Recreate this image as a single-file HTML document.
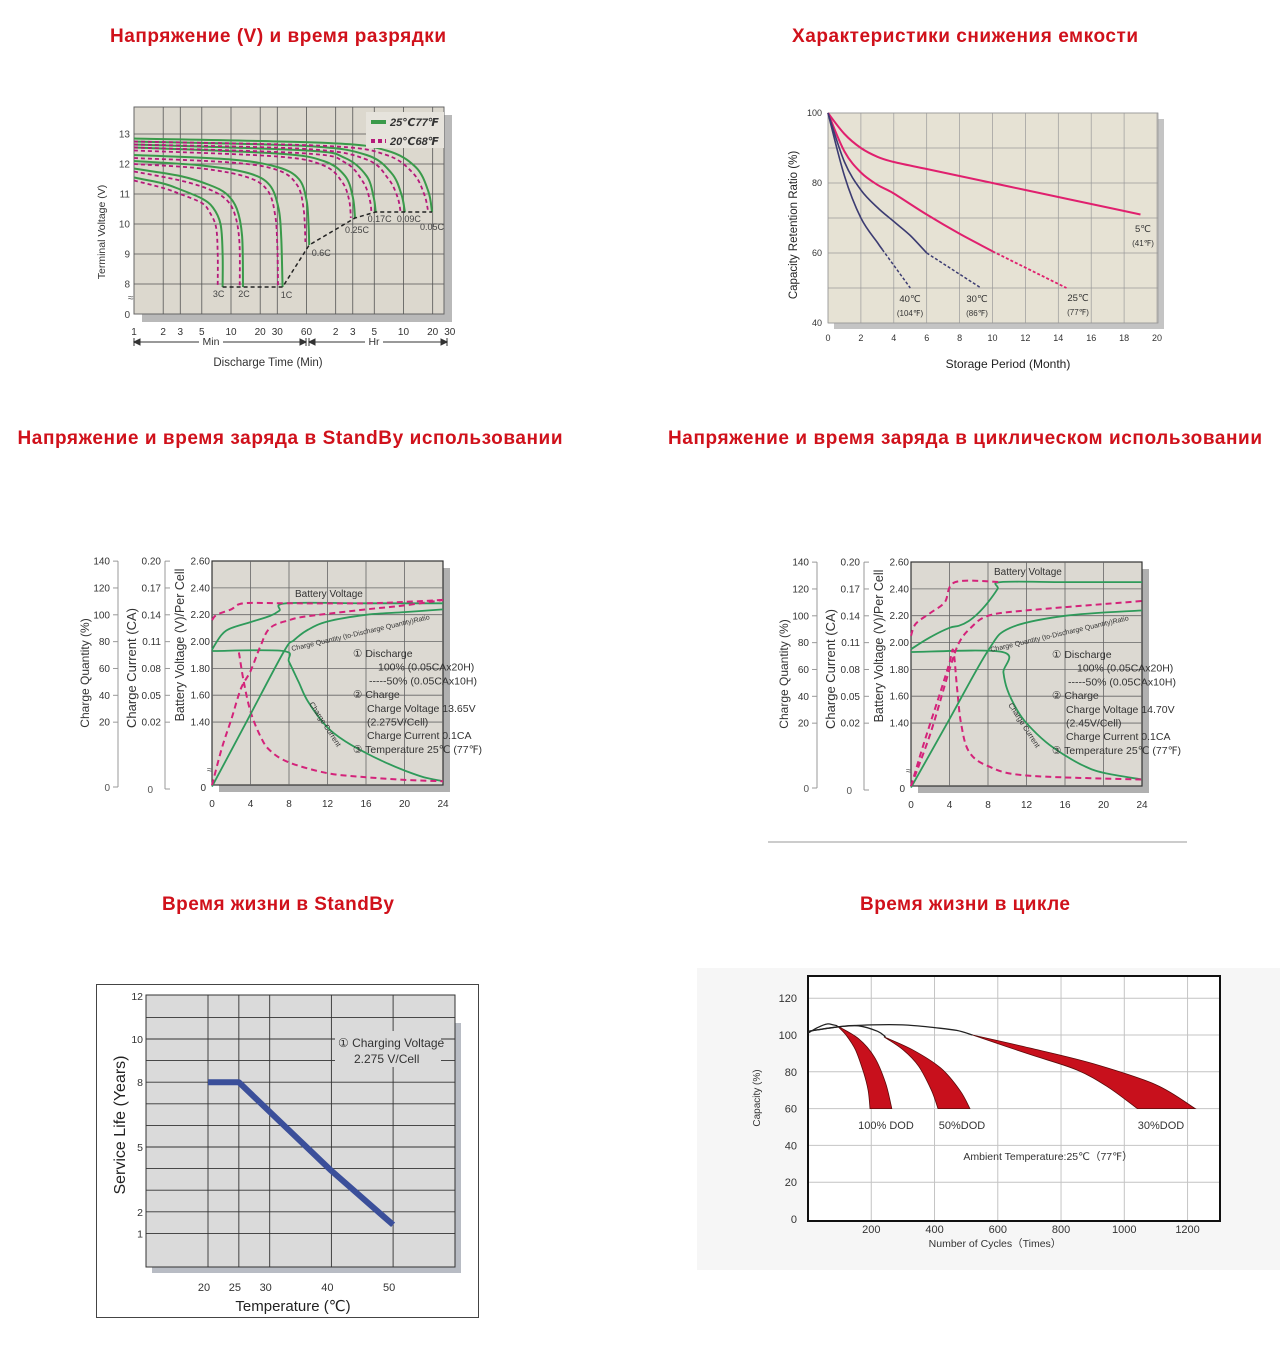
<!DOCTYPE html>
<html><head><meta charset="utf-8"><title>Battery charts</title>
<style>
html,body{margin:0;padding:0;background:#fff;width:1280px;height:1350px;overflow:hidden}
svg{display:block;font-family:"Liberation Sans","DejaVu Sans","Noto Sans CJK SC",sans-serif}
.ttl{font-size:19px;font-weight:bold;fill:#d0111b;text-anchor:middle}
</style></head>
<body>
<svg id="charts" width="1280" height="1350" viewBox="0 0 1280 1350" xmlns="http://www.w3.org/2000/svg">
<rect x="0" y="0" width="1280" height="1350" fill="#fff"/>
<text class="ttl" x="278" y="42" textLength="336">Напряжение (V) и время разрядки</text>
<text class="ttl" x="965" y="42" textLength="346">Характеристики снижения емкости</text>
<text class="ttl" x="290" y="444" textLength="545">Напряжение и время заряда в StandBy использовании</text>
<text class="ttl" x="965" y="444" textLength="594">Напряжение и время заряда в циклическом использовании</text>
<text class="ttl" x="278" y="910" textLength="232">Время жизни в StandBy</text>
<text class="ttl" x="965" y="910" textLength="210">Время жизни в цикле</text>
<line x1="768" y1="842" x2="1187" y2="842" stroke="#999" stroke-width="1"/>
</svg>
<script>
// ===== Chart 1: discharge =====
const dischargeRates=['3C','2C','1C','0.6C','0.25C','0.17C','0.09C','0.05C'];
const curves25=[
[[1,11.55],[2,11.35],[3,11.15],[5,10.85],[6.5,10.55],[7.8,10.0],[8.2,9.0],[8.2,7.9]],
[[1,11.85],[3,11.6],[6,11.3],[9,11.0],[11.5,10.5],[13,9.6],[13.3,7.9]],
[[1,12.1],[5,11.95],[15,11.7],[25,11.3],[31,10.5],[33,9.5],[34,7.9]],
[[1,12.3],[10,12.15],[30,11.9],[50,11.5],[60,10.8],[63,10.0],[64,9.3]],
[[1,12.55],[30,12.35],[90,12.1],[150,11.6],[180,10.9],[190,10.2]],
[[1,12.65],[60,12.45],[150,12.2],[250,11.6],[295,10.9],[310,10.4]],
[[1,12.75],[60,12.6],[250,12.3],[450,11.7],[570,11.0],[620,10.4]],
[[1,12.85],[100,12.7],[400,12.45],[800,11.9],[1080,11.1],[1180,10.4]]];
const curves20=[
[[1,11.45],[2,11.2],[3,11.0],[5,10.7],[6,10.4],[7,9.9],[7.3,9.0],[7.3,7.9]],
[[1,11.75],[3,11.45],[6,11.15],[9,10.8],[11,10.3],[12.2,9.4],[12.3,7.9]],
[[1,12.0],[5,11.85],[15,11.55],[24,11.1],[28.5,10.3],[30,9.3],[30.5,7.9]],
[[1,12.2],[10,12.05],[30,11.8],[48,11.3],[56,10.5],[58.5,9.4]],
[[1,12.45],[30,12.25],[90,11.95],[140,11.4],[165,10.8],[172,10.2]],
[[1,12.55],[60,12.35],[150,12.05],[230,11.4],[270,10.8],[280,10.4]],
[[1,12.65],[60,12.5],[250,12.15],[420,11.5],[520,10.9],[560,10.4]],
[[1,12.75],[100,12.6],[400,12.3],[750,11.7],[980,11.0],[1080,10.4]]];
const endVoltageLine=[[8.2,7.9],[34,7.9],[64,9.3],[190,10.2],[310,10.4],[1180,10.4]];
const timeTicks=[1,2,3,5,10,20,30,60,120,180,300,600,1200,1800];
const timeTickLabels=['1','2','3','5','10','20','30','60','2','3','5','10','20','30'];
const voltTicks=[8,9,10,11,12,13];
// ===== Chart 2: storage =====
const storageMonths5=[0,1,2,3,4,6,8,10,12,14,16,19];
const storageCap5=[100,94,90,87.5,86,84,82,80,78,76,74,71];
const storageMonths25=[0,1,2,3,4,6,8,10];
const storageCap25=[100,89,83,79.5,77,71,65.5,60.5];
const storageDash25=[[10,60.5],[14.5,50]];
const storageMonths30=[0,1,2,3,4,5,6];
const storageCap30=[100,86,78,73,69,65,60];
const storageDash30=[[6,60],[9.3,50]];
const storageMonths40=[0,1,2,3,3.3];
const storageCap40=[100,82,70,63,61];
const storageDash40=[[3.3,61],[5,50]];
const monthTicks=[0,2,4,6,8,10,12,14,16,18,20];
const retentionTicks=[40,60,80,100];
// ===== Chart 3/4: charge =====
const standbyVoltG=[[0,1.94],[1,2.05],[2,2.1],[4,2.145],[6,2.19],[7,2.23],[7.7,2.285],[16,2.285],[24,2.285]];
const standbyVoltP=[[0,2.16],[0.5,2.2],[2,2.24],[3.3,2.285],[7.7,2.285],[16,2.285],[20,2.295],[24,2.31]];
const standbyCurrG=[[0,73],[7.4,73],[8,65],[9,50],[10,35],[12,16],[14,5],[16,-3],[18,-10],[20,-16],[22,-21],[24,-24]];
const standbyCurrP=[[2.8,72],[3.3,50],[4,28],[5,10],[6,-1],[8,-10],[12,-18],[16,-21],[20,-23],[24,-24]];
const standbyCqG=[[0,-28],[3.75,22.5],[7.5,73],[8.5,81],[10,89],[12,95],[16,100],[20,102],[24,104]];
const standbyCqP=[[0,-27],[1,0],[2,22],[3,45],[4,58],[5,76],[6,90],[8,96],[10,99],[16,104],[20,107],[24,111]];
const cyclicVoltG=[[0,1.95],[2,2.04],[4,2.11],[5,2.125],[6,2.16],[7,2.22],[8,2.3],[9,2.4],[9.3,2.45],[16,2.45],[24,2.45]];
const cyclicVoltP=[[0,2.05],[0.5,2.14],[2,2.22],[3.5,2.3],[4.6,2.45],[9.3,2.45]];
const cyclicCurrG=[[0,73],[9.5,73],[9.6,58],[10,45],[11,30],[12,20],[14,6],[16,-4],[18,-12],[20,-17],[24,-22]];
const cyclicCurrP=[[0,-27],[1,-3],[2,20],[3,42],[4,65],[4.4,74],[4.8,45],[5.2,20],[6,-1],[8,-12],[12,-19],[24,-22]];
const cyclicCqG=[[0,-28],[4,23],[8,74],[10.3,91],[16,100],[24,104]];
const cyclicCqP=[[0,-27],[2,12],[4,60],[5,80],[6.2,91],[8,100],[12,104],[24,111]];
const hourTicks=[0,4,8,12,16,20,24];
const cqTicks=[20,40,60,80,100,120,140];
const caTickLabels=['0.02','0.05','0.08','0.11','0.14','0.17','0.20'];
const vTicks=[1.4,1.6,1.8,2.0,2.2,2.4,2.6];
// ===== Chart 5: standby life =====
const lifeTemps=[20,25,40,50];
const lifeYears=[8,8,3.9,1.4];
const lifeTempTicks=[20,25,30,40,50];
const lifeYearTicks=[1,2,5,8,10,12];
// ===== Chart 6: cycle life =====
const cycleTicks=[200,400,600,800,1000,1200];
const capTicks=[0,20,40,60,80,100,120];
const topCurve100=[[0,101],[30,104],[60,106],[80,105.5],[92,105]];
const topCurve50=[[0,102],[100,104.5],[160,105],[220,102],[245,99]];
const topCurve30=[[0,102],[100,104.5],[200,105.5],[300,105.5],[400,104],[470,102.5],[520,100]];
const band100Right=[[92,105],[160,98],[210,88],[245,74],[265,60]];
const band100Left=[[92,105],[120,100],[150,92],[175,80],[190,70],[196,60]];
const band50Right=[[240,99],[330,92],[420,82],[480,70],[512,60]];
const band50Left=[[240,99],[300,92],[350,83],[390,70],[411,60]];
const band30Right=[[520,100],[700,93],[900,84.5],[1100,73],[1224,60]];
const band30Left=[[520,100],[700,89.5],[850,81],[950,71.5],[1041,60]];

const NS='http://www.w3.org/2000/svg';
const root=document.getElementById('charts');
function mk(tag,name,attrs,parent){
  const e=document.createElementNS(NS,tag);
  for(const k in attrs) e.setAttribute(k,attrs[k]);
  
  
  (parent||root).appendChild(e);return e;}
function txt(name,x,y,s,attrs,parent){const e=mk('text',name,Object.assign({x:x,y:y},attrs||{}),parent);e.textContent=s;return e;}
function smooth(p){
  let d='M'+p[0][0].toFixed(1)+','+p[0][1].toFixed(1);
  for(let i=0;i<p.length-1;i++){
    const p0=p[i-1]||p[i],p1=p[i],p2=p[i+1],p3=p[i+2]||p2;
    const c1=[p1[0]+(p2[0]-p0[0])/6,p1[1]+(p2[1]-p0[1])/6];
    const c2=[p2[0]-(p3[0]-p1[0])/6,p2[1]-(p3[1]-p1[1])/6];
    d+=' C'+c1[0].toFixed(1)+','+c1[1].toFixed(1)+' '+c2[0].toFixed(1)+','+c2[1].toFixed(1)+' '+p2[0].toFixed(1)+','+p2[1].toFixed(1);}
  return d;}
function poly(p){return 'M'+p.map(q=>q[0].toFixed(1)+','+q[1].toFixed(1)).join(' L');}
function zip(a,b){return a.map((v,i)=>[v,b[i]]);}

// ---------- Chart 1 ----------
(function(){
  const g=mk('g','discharge-chart',{});
  const sx=t=>134+97*Math.log10(t), sy=v=>134+(13-v)*30;
  mk('rect','plot-shadow',{x:142,y:115,width:310,height:207,fill:'#b9b9b9'},g);
  mk('rect','plot-area',{x:134,y:107,width:310,height:207,fill:'#dcd8ce',stroke:'#666','stroke-width':1},g);
  timeTicks.forEach(t=>{if(t<1800&&t>1){mk('line','x-grid-line',{x1:sx(t),y1:107,x2:sx(t),y2:314,stroke:'#555','stroke-width':0.8},g);}});
  voltTicks.forEach(v=>{mk('line','y-grid-line',{x1:134,y1:sy(v),x2:444,y2:sy(v),stroke:'#555','stroke-width':0.8},g);
    txt('y-tick-label',130,sy(v)+3.5,String(v),{'font-size':10,fill:'#444','text-anchor':'end'},g);});
  txt('y-tick-label',130,318,'0',{'font-size':10,fill:'#444','text-anchor':'end'},g);
  txt('axis-break',128,301,'≈',{'font-size':10,fill:'#555'},g);
  timeTicks.forEach((t,i)=>txt('x-tick-label',sx(t),335,timeTickLabels[i],{'font-size':10,fill:'#333','text-anchor':'middle'},g));
  curves25.forEach((c,i)=>mk('path','curve-25c-'+dischargeRates[i],{d:smooth(c.map(p=>[sx(p[0]),sy(p[1])])),fill:'none',stroke:'#3a9a4a','stroke-width':2},g));
  curves20.forEach((c,i)=>mk('path','curve-20c-'+dischargeRates[i],{d:smooth(c.map(p=>[sx(p[0]),sy(p[1])])),fill:'none',stroke:'#b5197a','stroke-width':1.8,'stroke-dasharray':'4,3'},g));
  mk('path','end-voltage-line',{d:poly(endVoltageLine.map(p=>[sx(p[0]),sy(p[1])])),fill:'none',stroke:'#222','stroke-width':1.5,'stroke-dasharray':'4,3'},g);
  const off=[[-4,10],[1,10],[4,11],[12,11],[2,15],[4,10],[4,10],[0,18]];
  curves25.forEach((c,i)=>{const e=c[c.length-1];txt('rate-label',sx(e[0])+off[i][0],sy(e[1])+off[i][1],dischargeRates[i],{'font-size':9,fill:'#444','text-anchor':'middle'},g);});
  mk('rect','legend-box',{x:366,y:112,width:78,height:36,fill:'#e6e3dc'},g);
  mk('line','legend-25c-swatch',{x1:371,y1:122,x2:386,y2:122,stroke:'#3a9a4a','stroke-width':4},g);
  txt('legend-25c-label',390,126,'25℃77℉',{'font-size':11,'font-weight':'bold','font-style':'italic',fill:'#333'},g);
  mk('line','legend-20c-swatch',{x1:371,y1:141,x2:386,y2:141,stroke:'#b5197a','stroke-width':4,'stroke-dasharray':'4,3'},g);
  txt('legend-20c-label',390,145,'20℃68℉',{'font-size':11,'font-weight':'bold','font-style':'italic',fill:'#333'},g);
  mk('line','min-range-line',{x1:136,y1:342,x2:304,y2:342,stroke:'#333','stroke-width':1},g);
  mk('line','hr-range-line',{x1:309,y1:342,x2:445,y2:342,stroke:'#333','stroke-width':1},g);
  mk('path','range-arrows',{d:'M134,338 v8 M134,342 l6,-3 v6 z M306,338 v8 M306,342 l-6,-3 v6 z M309,338 v8 M309,342 l6,-3 v6 z M447,338 v8 M447,342 l-6,-3 v6 z',stroke:'#333',fill:'#333','stroke-width':1},g);
  mk('rect','min-label-bg',{x:199,y:335,width:24,height:12,fill:'#fff'},g);
  txt('min-label',211,345,'Min',{'font-size':10.5,fill:'#333','text-anchor':'middle'},g);
  mk('rect','hr-label-bg',{x:365,y:335,width:18,height:12,fill:'#fff'},g);
  txt('hr-label',374,345,'Hr',{'font-size':10.5,fill:'#333','text-anchor':'middle'},g);
  txt('x-axis-title',268,366,'Discharge Time (Min)',{'font-size':11.5,fill:'#333','text-anchor':'middle'},g);
  txt('y-axis-title',0,0,'Terminal Voltage (V)',{'font-size':10.5,fill:'#333','text-anchor':'middle',transform:'translate(105,232) rotate(-90)'},g);
})();

// ---------- Chart 2 ----------
(function(){
  const g=mk('g','storage-chart',{});
  const sx=m=>828+m*16.45, sy=p=>113+(100-p)*3.5;
  mk('rect','plot-shadow',{x:834,y:119,width:330,height:210,fill:'#c4c4c4'},g);
  mk('rect','plot-area',{x:828,y:113,width:330,height:210,fill:'#e6e2d4',stroke:'#999','stroke-width':0.8},g);
  monthTicks.forEach(m=>{mk('line','x-grid-line',{x1:sx(m),y1:113,x2:sx(m),y2:323,stroke:'#9a9a9a','stroke-width':0.7},g);
    txt('x-tick-label',sx(m),341,String(m),{'font-size':9,fill:'#333','text-anchor':'middle'},g);});
  for(let p=40;p<=100;p+=10){mk('line','y-grid-line',{x1:828,y1:sy(p),x2:1158,y2:sy(p),stroke:'#9a9a9a','stroke-width':0.7},g);}
  retentionTicks.forEach(p=>txt('y-tick-label',822,sy(p)+3,String(p),{'font-size':9,fill:'#333','text-anchor':'end'},g));
  const P=(ms,cs)=>zip(ms,cs).map(q=>[sx(q[0]),sy(q[1])]);
  mk('path','curve-5c',{d:smooth(P(storageMonths5,storageCap5)),fill:'none',stroke:'#e0206e','stroke-width':2},g);
  mk('path','curve-25c',{d:smooth(P(storageMonths25,storageCap25)),fill:'none',stroke:'#e0206e','stroke-width':2},g);
  mk('path','curve-30c',{d:smooth(P(storageMonths30,storageCap30)),fill:'none',stroke:'#3c3c72','stroke-width':1.6},g);
  mk('path','curve-40c',{d:smooth(P(storageMonths40,storageCap40)),fill:'none',stroke:'#3c3c72','stroke-width':1.6},g);
  mk('path','curve-25c-extrapolated',{d:poly(storageDash25.map(q=>[sx(q[0]),sy(q[1])])),fill:'none',stroke:'#e0206e','stroke-width':1.8,'stroke-dasharray':'3,2'},g);
  mk('path','curve-30c-extrapolated',{d:poly(storageDash30.map(q=>[sx(q[0]),sy(q[1])])),fill:'none',stroke:'#3c3c72','stroke-width':1.5,'stroke-dasharray':'3,2'},g);
  mk('path','curve-40c-extrapolated',{d:poly(storageDash40.map(q=>[sx(q[0]),sy(q[1])])),fill:'none',stroke:'#3c3c72','stroke-width':1.5,'stroke-dasharray':'3,2'},g);
  const lab=[['5℃','(41℉)',1143,232],['40℃','(104℉)',910,302],['30℃','(86℉)',977,302],['25℃','(77℉)',1078,301]];
  lab.forEach(l=>{txt('temp-label',l[2],l[3],l[0],{'font-size':9.5,fill:'#333','text-anchor':'middle'},g);
    txt('temp-label-f',l[2],l[3]+14,l[1],{'font-size':8,fill:'#333','text-anchor':'middle'},g);});
  txt('x-axis-title',1008,368,'Storage Period (Month)',{'font-size':12,fill:'#222','text-anchor':'middle'},g);
  txt('y-axis-title',0,0,'Capacity Retention Ratio (%)',{'font-size':11.5,fill:'#222','text-anchor':'middle',transform:'translate(797,225) rotate(-90)'},g);
})();

// ---------- Chart 3/4 ----------
function drawCharge(name,ox,oy,vG,vP,cG,cP,qG,qP,bvY,cvText,cellText){
  const g=mk('g',name,{});
  const L=ox+212,R=ox+443,T=oy+561,B=oy+785;
  const sx=h=>L+h*9.625, sv=V=>T+(2.6-V)*134.2, sq=q=>oy+749-q*1.342;
  mk('rect','plot-shadow',{x:L+7,y:T+7,width:R-L,height:B-T,fill:'#b0b0b0'},g);
  mk('rect','plot-area',{x:L,y:T,width:R-L,height:B-T,fill:'#dcd9d2',stroke:'#333','stroke-width':1.2},g);
  hourTicks.forEach(h=>{if(h>0&&h<24)mk('line','x-grid-line',{x1:sx(h),y1:T,x2:sx(h),y2:B,stroke:'#666','stroke-width':0.8},g);
    txt('x-tick-label',sx(h),oy+807,String(h),{'font-size':10,fill:'#333','text-anchor':'middle'},g);});
  vTicks.forEach(v=>{if(v<2.6)mk('line','y-grid-line',{x1:L,y1:sv(v),x2:R,y2:sv(v),stroke:'#666','stroke-width':0.8},g);
    txt('voltage-tick-label',ox+210,sv(v)+3.5,v.toFixed(2),{'font-size':10,fill:'#333','text-anchor':'end'},g);});
  txt('voltage-tick-label',ox+206,oy+791,'0',{'font-size':10,fill:'#333','text-anchor':'end'},g);
  txt('axis-break',ox+207,oy+773,'≈',{'font-size':10,fill:'#555'},g);
  mk('line','cq-axis-line',{x1:ox+118,y1:sq(140),x2:ox+118,y2:oy+787,stroke:'#999','stroke-width':1},g);
  mk('line','ca-axis-line',{x1:ox+165,y1:sq(140),x2:ox+165,y2:oy+789,stroke:'#999','stroke-width':1},g);
  cqTicks.forEach((q,i)=>{
    mk('line','cq-tick',{x1:ox+113,y1:sq(q),x2:ox+118,y2:sq(q),stroke:'#999'},g);
    txt('cq-tick-label',ox+110,sq(q)+3.5,String(q),{'font-size':10,fill:'#333','text-anchor':'end'},g);
    mk('line','ca-tick',{x1:ox+165,y1:sq(q),x2:ox+170,y2:sq(q),stroke:'#999'},g);
    txt('ca-tick-label',ox+161,sq(q)+3.5,caTickLabels[i],{'font-size':10,fill:'#333','text-anchor':'end'},g);});
  mk('line','cq-tick',{x1:ox+113,y1:oy+787,x2:ox+118,y2:oy+787,stroke:'#999'},g);
  txt('cq-tick-label',ox+110,oy+791,'0',{'font-size':10,fill:'#555','text-anchor':'end'},g);
  mk('line','ca-tick',{x1:ox+165,y1:oy+789,x2:ox+170,y2:oy+789,stroke:'#999'},g);
  txt('ca-tick-label',ox+153,oy+793,'0',{'font-size':10,fill:'#555','text-anchor':'end'},g);
  txt('cq-axis-title',0,0,'Charge Quantity (%)',{'font-size':12,fill:'#333','text-anchor':'middle',transform:'translate('+(ox+89)+','+(oy+673)+') rotate(-90)'},g);
  txt('ca-axis-title',0,0,'Charge Current (CA)',{'font-size':13,fill:'#333','text-anchor':'middle',transform:'translate('+(ox+136)+','+(oy+668)+') rotate(-90)'},g);
  txt('voltage-axis-title',0,0,'Battery Voltage (V)/Per Cell',{'font-size':12.5,fill:'#333','text-anchor':'middle',transform:'translate('+(ox+184)+','+(oy+645)+') rotate(-90)'},g);
  const G='#2e9a5a',Pk='#d4237a';
  mk('path','battery-voltage-full',{d:smooth(vG.map(p=>[sx(p[0]),sv(p[1])])),fill:'none',stroke:G,'stroke-width':1.8},g);
  mk('path','battery-voltage-half',{d:smooth(vP.map(p=>[sx(p[0]),sv(p[1])])),fill:'none',stroke:Pk,'stroke-width':2,'stroke-dasharray':'6,4'},g);
  mk('path','charge-current-full',{d:smooth(cG.map(p=>[sx(p[0]),sq(p[1])])),fill:'none',stroke:G,'stroke-width':1.8},g);
  mk('path','charge-current-half',{d:smooth(cP.map(p=>[sx(p[0]),sq(p[1])])),fill:'none',stroke:Pk,'stroke-width':2,'stroke-dasharray':'6,4'},g);
  mk('path','charge-quantity-full',{d:smooth(qG.map(p=>[sx(p[0]),sq(p[1])])),fill:'none',stroke:G,'stroke-width':1.8},g);
  mk('path','charge-quantity-half',{d:smooth(qP.map(p=>[sx(p[0]),sq(p[1])])),fill:'none',stroke:Pk,'stroke-width':2,'stroke-dasharray':'6,4'},g);
  txt('battery-voltage-label',ox+295,oy+bvY,'Battery Voltage',{'font-size':10,fill:'#333'},g);
  txt('charge-quantity-label',0,0,'Charge Quantity (to-Discharge Quantity)Ratio',{'font-size':7,fill:'#333',transform:'translate('+(ox+292)+','+(oy+651)+') rotate(-13)'},g);
  txt('charge-current-label',0,0,'Charge Current',{'font-size':7.5,fill:'#333',transform:'translate('+(ox+309)+','+(oy+704)+') rotate(57)'},g);
  const notes=[['① Discharge',353],['100% (0.05CAx20H)',378],['-----50% (0.05CAx10H)',369],['② Charge',353],['Charge Voltage '+cvText,367],[cellText,367],['Charge Current 0.1CA',367],['③ Temperature 25℃ (77℉)',353]];
  notes.forEach((n,i)=>txt('condition-note',ox+n[1],oy+657+i*13.7,n[0],{'font-size':10.5,fill:'#333'},g));
}
drawCharge('standby-charge-chart',0,0,standbyVoltG,standbyVoltP,standbyCurrG,standbyCurrP,standbyCqG,standbyCqP,597,'13.65V','(2.275V/Cell)');
drawCharge('cyclic-charge-chart',699,1,cyclicVoltG,cyclicVoltP,cyclicCurrG,cyclicCurrP,cyclicCqG,cyclicCqP,574,'14.70V','(2.45V/Cell)');

// ---------- Chart 5: standby life ----------
(function(){
  const g=mk('g','standby-life-chart',{});
  const sx=t=>208+(t-20)*6.17, sy=v=>1255-v*21.6;
  mk('rect','chart-frame',{x:96.5,y:984.5,width:382,height:333,fill:'#fff',stroke:'#444','stroke-width':1},g);
  mk('rect','plot-shadow',{x:152,y:1023,width:309,height:250,fill:'#b8bcc4'},g);
  mk('rect','plot-area',{x:146,y:995,width:309,height:272,fill:'#dadada',stroke:'#333','stroke-width':1},g);
  for(let v=1;v<=11;v++){mk('line','y-grid-line',{x1:146,y1:sy(v),x2:455,y2:sy(v),stroke:'#333','stroke-width':0.9},g);}
  lifeTempTicks.forEach(t=>mk('line','x-grid-line',{x1:sx(t),y1:995,x2:sx(t),y2:1267,stroke:'#333','stroke-width':0.9},g));
  mk('rect','note-bg',{x:335,y:1031,width:106,height:36,fill:'#dadada'},g);
  txt('note-line-1',338,1047,'① Charging Voltage',{'font-size':12,fill:'#333'},g);
  txt('note-line-2',354,1063,'2.275 V/Cell',{'font-size':12,fill:'#333'},g);
  mk('path','service-life-line',{d:poly(zip(lifeTemps,lifeYears).map(q=>[sx(q[0]),sy(q[1])])),fill:'none',stroke:'#3b4f9a','stroke-width':6,'stroke-linejoin':'round'},g);
  lifeYearTicks.forEach(v=>txt('y-tick-label',143,sy(v)+4,String(v),{'font-size':10.5,fill:'#333','text-anchor':'end'},g));
  lifeTempTicks.forEach(t=>txt('x-tick-label',sx(t)-4,1291,String(t),{'font-size':11,fill:'#333','text-anchor':'middle'},g));
  txt('x-axis-title',293,1311,'Temperature (℃)',{'font-size':15,fill:'#222','text-anchor':'middle'},g);
  txt('y-axis-title',0,0,'Service Life (Years)',{'font-size':16,fill:'#222','text-anchor':'middle',transform:'translate(125,1125) rotate(-90)'},g);
})();

// ---------- Chart 6: cycle life ----------
(function(){
  const g=mk('g','cycle-life-chart',{});
  const sx=c=>808+c*0.3163, sy=p=>1219-p*1.84;
  mk('rect','chart-background',{x:697,y:968,width:583,height:302,fill:'#f6f6f6'},g);
  mk('rect','plot-area',{x:808,y:976,width:412,height:245,fill:'#fff',stroke:'#111','stroke-width':2},g);
  cycleTicks.forEach(c=>{mk('line','x-grid-line',{x1:sx(c),y1:977,x2:sx(c),y2:1220,stroke:'#c4c4c4','stroke-width':1},g);
    txt('x-tick-label',sx(c),1233,String(c),{'font-size':11,fill:'#333','text-anchor':'middle'},g);});
  capTicks.forEach(p=>{if(p>0)mk('line','y-grid-line',{x1:809,y1:sy(p),x2:1219,y2:sy(p),stroke:'#c4c4c4','stroke-width':1},g);
    txt('y-tick-label',797,sy(p)+4,String(p),{'font-size':11,fill:'#333','text-anchor':'end'},g);});
  const band=(n,r,l)=>{const pr=r.map(q=>[sx(q[0]),sy(q[1])]),pl=l.map(q=>[sx(q[0]),sy(q[1])]).reverse();
    mk('path',n,{d:smooth(pr)+' L'+pl[0][0].toFixed(1)+','+pl[0][1].toFixed(1)+' '+smooth(pl).slice(1).replace(/^[^C]*/,'')+' Z',fill:'#c8101c',stroke:'#5a0a0a','stroke-width':0.8},g);};
  band('band-100-dod',band100Right,band100Left);
  band('band-50-dod',band50Right,band50Left);
  band('band-30-dod',band30Right,band30Left);
  [topCurve100,topCurve50,topCurve30].forEach(c=>mk('path','capacity-curve',{d:smooth(c.map(q=>[sx(q[0]),sy(q[1])])),fill:'none',stroke:'#222','stroke-width':1.3},g));
  txt('dod-100-label',886,1129,'100% DOD',{'font-size':11,fill:'#333','text-anchor':'middle'},g);
  txt('dod-50-label',962,1129,'50%DOD',{'font-size':11,fill:'#333','text-anchor':'middle'},g);
  txt('dod-30-label',1161,1129,'30%DOD',{'font-size':11,fill:'#333','text-anchor':'middle'},g);
  txt('ambient-note',1048,1160,'Ambient Temperature:25℃（77℉）',{'font-size':10.5,fill:'#333','text-anchor':'middle'},g);
  txt('x-axis-title',995,1247,'Number of Cycles（Times）',{'font-size':10.5,fill:'#333','text-anchor':'middle'},g);
  txt('y-axis-title',0,0,'Capacity (%)',{'font-size':10,fill:'#333','text-anchor':'middle',transform:'translate(760,1098) rotate(-90)'},g);
})();
</script>
</body></html>
